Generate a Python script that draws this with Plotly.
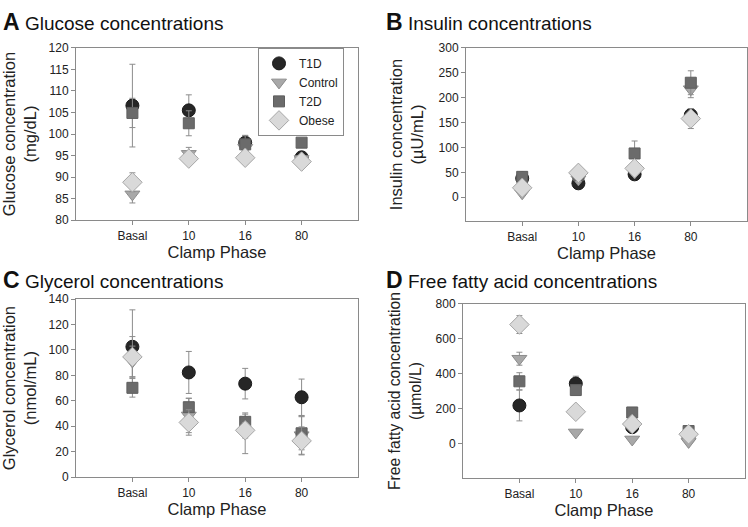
import plotly.graph_objects as go

phases = ["Basal", "10", "16", "80"]
groups = ["T1D", "Control", "T2D", "Obese"]

# Glucose (mg/dL)
glucose_t1d = [106.6, 105.5, 98.0, 94.6]
glucose_t1d_err = [9.6, 3.6, 1.7, 0.6]
glucose_control = [86.0, 95.4, 96.8, 94.2]
glucose_control_err = [2.0, 1.5, 1.3, 0.5]
glucose_t2d = [104.9, 102.5, 97.6, 98.0]
glucose_t2d_err = [3.4, 2.9, 2.0, 0.5]
glucose_obese = [88.8, 94.3, 94.5, 93.6]
glucose_obese_err = [2.2, 1.2, 1.4, 0.6]

# Insulin (µU/mL)
insulin_t1d = [38, 28, 46, 165]
insulin_t1d_err = [4, 4, 5, 12]
insulin_control = [8, 36, 50, 217]
insulin_control_err = [3, 5, 6, 17]
insulin_t2d = [41, 45, 88, 230]
insulin_t2d_err = [5, 6, 25, 24]
insulin_obese = [19, 49, 58, 158]
insulin_obese_err = [4, 5, 6, 20]

# Glycerol (nmol/mL)
glycerol_t1d = [102.5, 82.3, 73.5, 62.8]
glycerol_t1d_err = [29.0, 16.5, 12.0, 14.3]
glycerol_control = [91.0, 48.5, 34.5, 33.0]
glycerol_control_err = [12.0, 13.5, 16.0, 15.0]
glycerol_t2d = [70.2, 55.0, 43.5, 34.5]
glycerol_t2d_err = [7.3, 7.0, 6.0, 13.0]
glycerol_obese = [94.5, 43.0, 36.8, 28.5]
glycerol_obese_err = [16.0, 10.0, 6.0, 11.0]

# Free fatty acid (µmol/L)
ffa_t1d = [220, 345, 96, 40]
ffa_t1d_err = [88, 42, 12, 8]
ffa_control = [487, 66, 26, 12]
ffa_control_err = [37, 8, 5, 4]
ffa_t2d = [358, 308, 180, 74]
ffa_t2d_err = [49, 20, 15, 10]
ffa_obese = [682, 184, 114, 56]
ffa_obese_err = [51, 15, 12, 8]

W, H = 748, 527


def px(s):
    return s / W


def py(s):
    return 1 - s / H


styles = {
    "T1D": dict(symbol="circle", size=13, color="#262626", line=dict(color="#1a1a1a", width=1)),
    "Control": dict(symbol="triangle-down", size=13, color="#a8a8a8", line=dict(color="#8c8c8c", width=1)),
    "T2D": dict(symbol="square", size=11, color="#6b6b6b", line=dict(color="#5e5e5e", width=1)),
    "Obese": dict(symbol="diamond", size=15, color="#d9d9d9", line=dict(color="#a6a6a6", width=1)),
}

panels = [
    dict(vals=[glucose_t1d, glucose_control, glucose_t2d, glucose_obese],
         errs=[glucose_t1d_err, glucose_control_err, glucose_t2d_err, glucose_obese_err],
         xdom=[px(76), px(358)], ydom=[py(219), py(42)], yrange=[80, 120], dtick=5,
         ytitle="Glucose concentration<br>(mg/dL)", tsize=16.5, legend=True),
    dict(vals=[insulin_t1d, insulin_control, insulin_t2d, insulin_obese],
         errs=[insulin_t1d_err, insulin_control_err, insulin_t2d_err, insulin_obese_err],
         xdom=[px(466), px(747)], ydom=[py(220), py(42)], yrange=[-48, 300], dtick=50,
         ytitle="Insulin concentration<br>(µU/mL)", tsize=16.5, legend=False),
    dict(vals=[glycerol_t1d, glycerol_control, glycerol_t2d, glycerol_obese],
         errs=[glycerol_t1d_err, glycerol_control_err, glycerol_t2d_err, glycerol_obese_err],
         xdom=[px(76), px(358)], ydom=[py(483), py(300)], yrange=[0, 140], dtick=20,
         ytitle="Glycerol concentration<br>(nmol/mL)", tsize=16.5, legend=False),
    dict(vals=[ffa_t1d, ffa_control, ffa_t2d, ffa_obese],
         errs=[ffa_t1d_err, ffa_control_err, ffa_t2d_err, ffa_obese_err],
         xdom=[px(463), px(745)], ydom=[py(484), py(305)], yrange=[-195, 800], dtick=200,
         ytitle="Free fatty acid concentration<br>(µmol/L)", tsize=15.7, legend=False),
]

fig = go.Figure()
font_family = "Liberation Sans, Arial, sans-serif"
axis_color = "#8a8a8a"
text_color = "#222"

for i, p in enumerate(panels):
    n = "" if i == 0 else str(i + 1)
    for g, v, e in zip(groups, p["vals"], p["errs"]):
        fig.add_trace(go.Scatter(
            x=phases, y=v, mode="markers", name=g,
            showlegend=p["legend"],
            marker=styles[g],
            error_y=dict(type="data", array=e, visible=True, color="#8c8c8c", thickness=1, width=3),
            xaxis="x" + n, yaxis="y" + n,
        ))
    fig.layout["xaxis" + n] = dict(
        domain=p["xdom"], anchor="y" + n, type="category", categoryorder="array",
        categoryarray=phases, range=[-1, 4], showgrid=False, zeroline=False,
        showline=True, linecolor=axis_color, linewidth=1, mirror=True,
        ticks="outside", ticklen=4, tickcolor=axis_color,
        tickfont=dict(size=12, color=text_color),
        title=dict(text="Clamp Phase", font=dict(size=16.5, color=text_color), standoff=4),
    )
    fig.layout["yaxis" + n] = dict(
        domain=p["ydom"], anchor="x" + n, range=p["yrange"], dtick=p["dtick"], tick0=0,
        showgrid=False, zeroline=False,
        showline=True, linecolor=axis_color, linewidth=1, mirror=True,
        ticks="outside", ticklen=4, tickcolor=axis_color,
        tickfont=dict(size=12, color=text_color),
        title=dict(text=p["ytitle"], font=dict(size=p["tsize"], color=text_color), standoff=10),
    )

titles = [
    ("A", "Glucose concentrations", 1, 15),
    ("B", "Insulin concentrations", 384, 15),
    ("C", "Glycerol concentrations", 1, 280),
    ("D", "Free fatty acid concentrations", 384, 280),
]
for letter, txt, xs, ys in titles:
    fig.add_annotation(
        xref="paper", yref="paper", x=px(xs), y=py(ys), xanchor="left", yanchor="middle",
        text=f"<b><span style='font-size:23px'>{letter}</span></b> {txt}",
        showarrow=False, font=dict(size=19, color="#111", family=font_family),
    )

fig.update_layout(
    width=W, height=H,
    margin=dict(l=0, r=0, t=0, b=0),
    paper_bgcolor="white", plot_bgcolor="white",
    font=dict(family=font_family, color=text_color),
    showlegend=True,
    legend=dict(
        x=px(258), y=py(42), xanchor="left", yanchor="top",
        bordercolor=axis_color, borderwidth=1, bgcolor="white",
        font=dict(size=12, color=text_color), itemwidth=30, tracegroupgap=0,
    ),
)

fig.write_html("out.html", config={"displayModeBar": False},
               post_script="document.body.style.margin='0px';")
